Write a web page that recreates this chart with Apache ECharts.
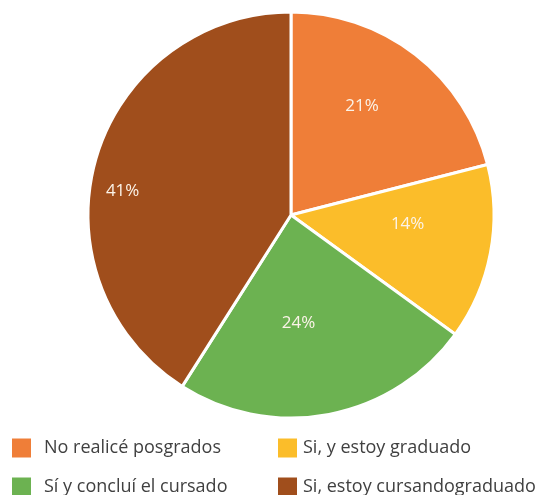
<!DOCTYPE html>
<html><head><meta charset="utf-8">
<script src="https://cdn.jsdelivr.net/npm/echarts@6/dist/echarts.min.js"></script>
<style>html,body{margin:0;padding:0;background:#fff}#c{width:541px;height:495px}</style>
</head><body><div id="c"></div>
<script>
const categories = ['No realicé posgrados', 'Si, y estoy graduado', 'Sí y concluí el cursado', 'Si, estoy cursandograduado'];
const values = [21, 14, 24, 41];
const colors = ['#EF7E38', '#FBBD2A', '#6CB251', '#A04E1C'];
// label nudges (style only) to mimic Excel's best-fit placement
const labelShift = [[7, -26], [14, -10], [-12, 6], [-68, 5]];

const chart = echarts.init(document.getElementById('c'));
function legendBase(left, pad, data) {
  return {
    orient: 'vertical', icon: 'rect', itemWidth: 21, itemHeight: 21, itemGap: 16,
    left: left, top: 436.5, height: 75, padding: 0, data: data,
    textStyle: { fontFamily: 'Open Sans', fontSize: 18, lineHeight: 22, color: '#404040', padding: [0, 0, 0, pad] }
  };
}
chart.setOption({
  animation: false,
  legend: [
    legendBase(10, 7, [categories[0], categories[2]]),
    legendBase(276, 0, [categories[1], categories[3]])
  ],
  series: [{
    type: 'pie',
    center: [291, 215],
    radius: [0, 203],
    startAngle: 90,
    clockwise: true,
    itemStyle: { borderColor: '#fff', borderWidth: 3 },
    label: {
      show: true, position: 'inside', formatter: '{d}%',
      fontFamily: 'Open Sans', fontSize: 17, color: '#FBF3E8'
    },
    labelLine: { show: false },
    labelLayout: function (p) {
      const s = labelShift[p.dataIndex];
      return { dx: s[0], dy: s[1] };
    },
    data: categories.map((n, i) => ({ name: n, value: values[i], itemStyle: { color: colors[i] } }))
  }]
});
</script></body></html>
